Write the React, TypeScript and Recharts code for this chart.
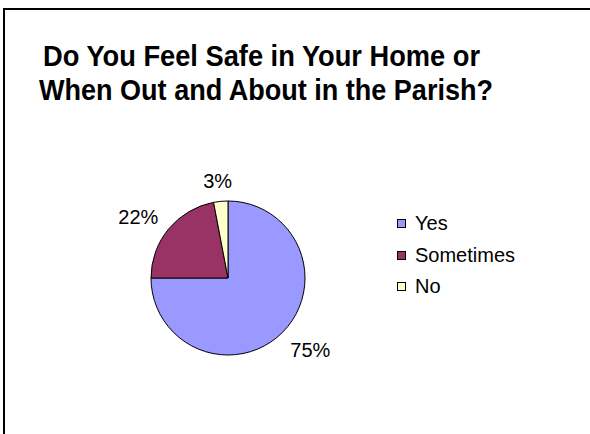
import React from 'react';
import { PieChart, Pie, Cell, Legend } from 'recharts';

const categories = ['Yes', 'Sometimes', 'No'];
const shares = [75, 22, 3];
const colors = ['#9999FF', '#993366', '#FFFFCC'];
const titleLines = ['Do You Feel Safe in Your Home or', 'When Out and About in the Parish?'];

const data = categories.map((name, i) => ({ name, value: shares[i] }));

const FONT = '"Liberation Sans", Arial, Helvetica, sans-serif';
const RAD = Math.PI / 180;

const renderLabel = (props: any) => {
  const { cx, cy, midAngle, outerRadius, value } = props;
  const text = `${value}%`;
  const hw = ((text.length - 1) * 5.5 + 8.5) * 1.25;
  const hh = 7;
  const cos = Math.cos(-midAngle * RAD);
  const sin = Math.sin(-midAngle * RAD);
  const r = outerRadius + 15;
  const x = cx + r * cos + hw * cos;
  const y = cy + r * sin + hh * sin;
  return (
    <text x={x} y={y} dy={9} textAnchor="middle" fontFamily={FONT} fontSize={20} fill="#000">
      {text}
    </text>
  );
};

// legend keeps the category order of the data
const renderLegend = () => (
  <div style={{ fontFamily: FONT, fontSize: 20, color: '#000' }}>
    {categories.map((name, i) => (
      <div key={name} style={{ display: 'flex', alignItems: 'center', height: 31.5 }}>
        <span
          style={{
            display: 'inline-block',
            width: 7,
            height: 7,
            border: '1px solid #000',
            background: colors[i],
            marginRight: 9,
          }}
        />
        <span>{name}</span>
      </div>
    ))}
  </div>
);

const App = () => {
  return (
    <div style={{ position: 'absolute', left: 0, top: 0, width: 590, height: 434, overflow: 'hidden', background: '#fff' }}>
      <div
        style={{
          position: 'absolute',
          left: 3,
          top: 8,
          width: 700,
          height: 600,
          borderTop: '2px solid #000',
          borderLeft: '2px solid #000',
        }}
      />
      <div style={{ position: 'absolute', left: 0, top: 0 }}>
        <PieChart width={590} height={434} margin={{ top: 0, right: 0, bottom: 0, left: 0 }}>
          <Pie
            data={data}
            dataKey="value"
            nameKey="name"
            cx={228}
            cy={278}
            outerRadius={77}
            startAngle={90}
            endAngle={-270}
            stroke="#000"
            strokeWidth={1}
            labelLine={false}
            label={renderLabel}
            isAnimationActive={false}
          >
            {data.map((d, i) => (
              <Cell key={d.name} fill={colors[i]} />
            ))}
          </Pie>
          <Legend
            layout="vertical"
            verticalAlign="top"
            align="right"
            wrapperStyle={{ left: 397, top: 208, right: 'auto', width: 150 }}
            content={renderLegend}
          />
        </PieChart>
      </div>
      <svg width={590} height={434} style={{ position: 'absolute', left: 0, top: 0, pointerEvents: 'none' }}>
        <text x={43} y={66} fontFamily={FONT} fontWeight="bold" fontSize={30} textLength={437} lengthAdjust="spacingAndGlyphs" fill="#000">
          {titleLines[0]}
        </text>
        <text x={39} y={100} fontFamily={FONT} fontWeight="bold" fontSize={30} textLength={454} lengthAdjust="spacingAndGlyphs" fill="#000">
          {titleLines[1]}
        </text>
      </svg>
    </div>
  );
};

export default App;
